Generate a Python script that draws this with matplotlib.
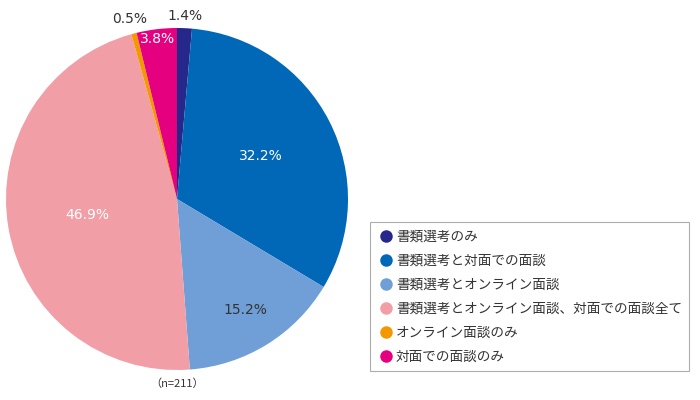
import matplotlib
matplotlib.use('Agg')
import matplotlib.pyplot as plt
from matplotlib.lines import Line2D
import numpy as np

plt.rcParams['font.family'] = ['Noto Sans CJK JP', 'DejaVu Sans']

# data
labels = ['書類選考のみ', '書類選考と対面での面談', '書類選考とオンライン面談',
          '書類選考とオンライン面談、対面での面談全て', 'オンライン面談のみ', '対面での面談のみ']
values = [1.4, 32.2, 15.2, 46.9, 0.5, 3.8]
colors = ['#25278a', '#0068b7', '#6f9fd6', '#f19ea7', '#f39800', '#e4007f']
note = '（n=211）'

# label placement: radial distance and colour per slice
label_r = [1.07, 0.55, 0.76, 0.53, 1.09, 0.94]
label_c = ['#333333', 'white', '#333333', 'white', '#333333', 'white']

fig = plt.figure(figsize=(7, 4), dpi=100)
ax = fig.add_axes([6/700, 30/400, 342/700, 342/400])
wedges, _ = ax.pie(values, colors=colors, startangle=90, counterclock=False,
                   radius=1, wedgeprops=dict(linewidth=0))
ax.set_xlim(-1, 1)
ax.set_ylim(-1, 1)
ax.set_aspect('equal')
ax.axis('off')

for w, v, r, c in zip(wedges, values, label_r, label_c):
    ang = np.deg2rad((w.theta1 + w.theta2) / 2)
    ax.text(r*np.cos(ang), r*np.sin(ang), f'{v}%', ha='center', va='center',
            fontsize=10, color=c, clip_on=False, family='DejaVu Sans')

ax.text(0, -1.08, note, ha='center', va='center', fontsize=8, color='#333333')

handles = [Line2D([], [], marker='o', linestyle='', markersize=9,
                  markerfacecolor=c, markeredgewidth=0) for c in colors]
leg = fig.legend(handles, labels, loc='upper left', bbox_to_anchor=(370/700, 1-222/400),
                 frameon=True, fancybox=False, fontsize=9.8, handletextpad=0.15,
                 handlelength=1.2, labelspacing=0.74, borderpad=0.55,
                 borderaxespad=0, labelcolor='#333333')
leg.get_frame().set_edgecolor('#999999')
leg.get_frame().set_linewidth(0.8)

fig.savefig('out.png', dpi=100)
